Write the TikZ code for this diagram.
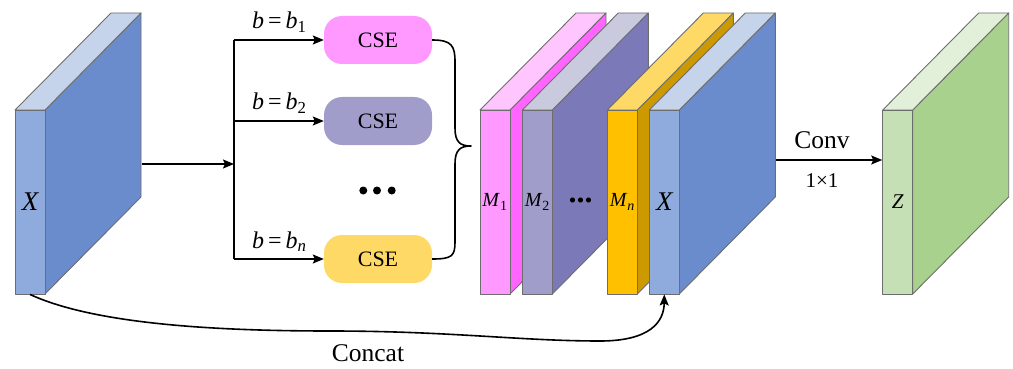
\documentclass[tikz,border=0pt]{standalone}
\usepackage{fontspec}
\setmainfont{Liberation Serif}
\usetikzlibrary{arrows.meta}

\definecolor{edge}{HTML}{6D6D6D}
% blue feature map
\definecolor{xfront}{HTML}{8FAADC}
\definecolor{xside}{HTML}{6A8BCC}
\definecolor{xtop}{HTML}{C5D3EB}
% pink
\definecolor{pfront}{HTML}{FF99FF}
\definecolor{pside}{HTML}{FF66FF}
\definecolor{ptop}{HTML}{FFC5FF}
% purple
\definecolor{vfront}{HTML}{A09DCB}
\definecolor{vside}{HTML}{7C79B9}
\definecolor{vtop}{HTML}{CACADF}
% gold
\definecolor{gfront}{HTML}{FFC000}
\definecolor{gside}{HTML}{CC9A00}
\definecolor{gtop}{HTML}{FFD966}
% green
\definecolor{zfront}{HTML}{C5E0B4}
\definecolor{zside}{HTML}{A9D18E}
\definecolor{ztop}{HTML}{E2F0D9}

\tikzset{
  face/.style={draw=edge,line width=0.9pt,line join=round},
  frontface/.style={face,minimum width=30pt,minimum height=184pt,inner sep=0pt},
  csebox/.style={minimum width=108pt,minimum height=48pt,rounded corners=18pt,
    inner sep=0pt,font=\fontsize{22}{26}\selectfont},
  conn/.style={line width=1.6pt,black},
  arr/.style={conn,-{Stealth[length=11pt,width=9pt,inset=2pt]}},
  lbl/.style={font=\fontsize{24}{28}\selectfont,inner sep=0pt},
}

% feature-map slab: name, left x, front colour, side colour, top colour, label
\newcommand\slab[6]{%
  \filldraw[face,fill=#4] ({#2+30},110) -- ({#2+126},13) -- ({#2+126},197) -- ({#2+30},294) -- cycle;
  \filldraw[face,fill=#5] (#2,110) -- ({#2+96},13) -- ({#2+126},13) -- ({#2+30},110) -- cycle;
  \node[frontface,fill=#3] (#1) at ({#2+15},202) {#6};
}

\begin{document}
\begin{tikzpicture}[x=1pt,y=-1pt]
\useasboundingbox (0,0) rectangle (1013,369);

% input map
\slab{xin}{15}{xfront}{xside}{xtop}{\fontsize{27}{30}\selectfont\itshape X}

% splitter
\coordinate (xout) at (141.7,164);
\coordinate (split) at (234,164);
\coordinate (br1) at (234,40);
\coordinate (br2) at (234,121);
\coordinate (br3) at (234,259);

% CSE modules
\node[csebox,fill=pfront] (cse1) at (378,40) {CSE};
\node[csebox,fill=vfront] (cse2) at (378,121) {CSE};
\node[csebox,fill=gtop] (cse3) at (378,259) {CSE};

\draw[arr] (xout) -- (split);
\draw[conn] (br1) -- (br3);
\draw[arr] (br1) -- (cse1.west);
\draw[arr] (br2) -- (cse2.west);
\draw[arr] (br3) -- (cse3.west);

\node[lbl,anchor=base west] (l1) at (252,29) {\textit{b}\,=\,\textit{b}\textsubscript{1}};
\node[lbl,anchor=base west] (l2) at (252,110) {\textit{b}\,=\,\textit{b}\textsubscript{2}};
\node[lbl,anchor=base west] (l3) at (252,248) {\textit{b}\,=\,\textit{b}\textsubscript{\textit{n}}};

% vertical ellipsis between modules
\foreach \dx in {363.3,377,391.7} \fill (\dx,190.5) circle (4pt);

% merging brace
\coordinate (tip) at (471,146);
\draw[conn,line join=round] (cse1.east) .. controls (452,40) and (455,46) .. (455,62)
  -- (455,128) .. controls (455,142) and (460,146) .. (tip)
  .. controls (460,146) and (455,150) .. (455,164)
  -- (455,242) .. controls (455,256) and (452,259) .. (cse3.east);

% concatenated stack
\slab{m1}{480}{pfront}{pside}{ptop}{\fontsize{20}{24}\selectfont\textit{M}\textsubscript{1}}
\slab{m2}{522.3}{vfront}{vside}{vtop}{\fontsize{20}{24}\selectfont\textit{M}\textsubscript{2}}
\foreach \dx in {572.5,580.5,588.5} \fill (\dx,200) circle (2.6pt);
\slab{mn}{607.3}{gfront}{gside}{gtop}{\fontsize{20}{24}\selectfont\textit{M}\textsubscript{\textit{n}}}
\slab{xcat}{649.3}{xfront}{xside}{xtop}{\fontsize{27}{30}\selectfont\itshape X}

% output map
\slab{zout}{882.7}{zfront}{zside}{ztop}{\fontsize{21}{24}\selectfont\itshape Z}

\coordinate (convstart) at (776,160);
\draw[arr] (convstart) -- (convstart -| zout.west);
\node[lbl,font=\fontsize{25.5}{28}\selectfont] (conv) at (822,140) {Conv};
\node[lbl,font=\fontsize{21}{24}\selectfont] (k) at (822,181) {1×1};

% skip connection
\draw[arr] (xin.south) .. controls (90,322) and (200,331) .. (330,331)
  .. controls (450,331) and (520,341) .. (600,341)
  .. controls (650,341) and (664,322) .. (xcat.south);
\node[lbl,font=\fontsize{25.5}{28}\selectfont] (concat) at (368,353) {Concat};
\end{tikzpicture}
\end{document}
